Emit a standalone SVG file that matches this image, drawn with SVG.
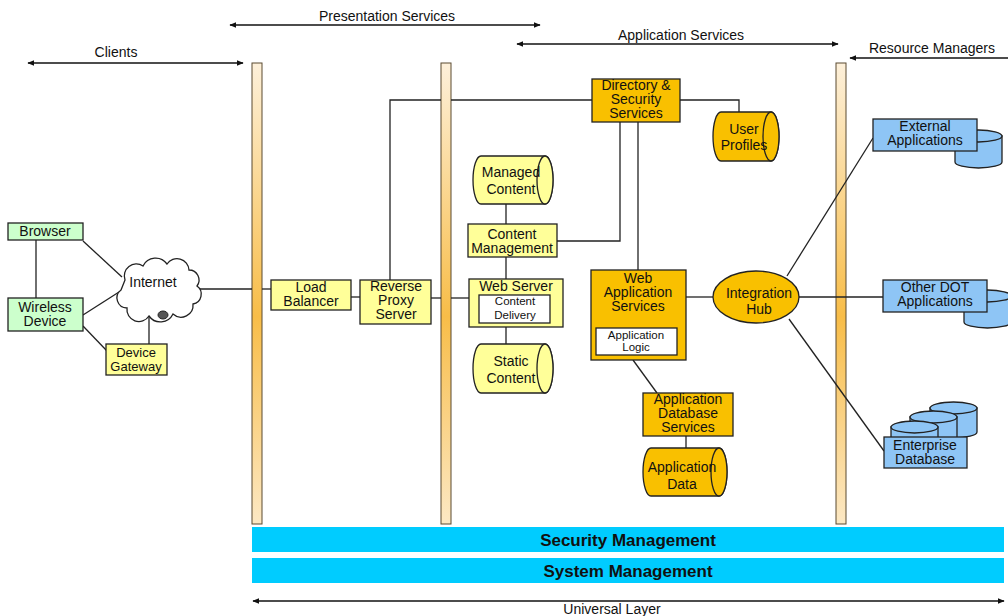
<svg xmlns="http://www.w3.org/2000/svg" width="1008" height="616" viewBox="0 0 1008 616">
<style>
text{font-family:"Liberation Sans",Arial,sans-serif;font-size:14px;fill:#111;text-anchor:middle}
.big{font-size:17px;font-weight:bold}
.sm{font-size:11.5px}
.t13{font-size:13px}
.box{stroke:#222;stroke-width:1.3}
.g{fill:#CCFFCC}.y{fill:#FFFF99}.o{fill:#F9C000}.b{fill:#8EC5F5}.w{fill:#fff}
.ln{stroke:#222;stroke-width:1.3;fill:none}
.arr{stroke:#111;stroke-width:1.5;fill:none;marker-start:url(#ah);marker-end:url(#ah)}
.bar{fill:url(#bg);stroke:#5a4a30;stroke-width:1}
</style>
<defs>
<marker id="ah" viewBox="0 0 10 10" refX="9" refY="5" markerWidth="7" markerHeight="7" orient="auto-start-reverse" markerUnits="userSpaceOnUse"><path d="M0,1 L10,5 L0,9 Z" fill="#111"/></marker>
<linearGradient id="bg" x1="0" y1="0" x2="0" y2="1"><stop offset="0" stop-color="#FDF0DA"/><stop offset="0.55" stop-color="#F8BD48"/><stop offset="1" stop-color="#FCE8C4"/></linearGradient>
</defs>
<rect width="1008" height="616" fill="#fff"/>

<g id="layers">
<line class="arr" x1="28" y1="63" x2="243" y2="63"/><text x="116" y="57">Clients</text>
<line class="arr" x1="230" y1="25" x2="540" y2="25"/><text x="387" y="21">Presentation Services</text>
<line class="arr" x1="517" y1="44" x2="838" y2="44"/><text x="681" y="40">Application Services</text>
<line class="arr" x1="850" y1="58" x2="1020" y2="58"/><text x="932" y="53">Resource Managers</text>
<line class="arr" x1="253" y1="601" x2="1004" y2="601"/><text x="612" y="614">Universal Layer</text>
</g>

<g id="bars">
<rect class="bar" x="252" y="63" width="10" height="461"/>
<rect class="bar" x="441" y="63" width="10" height="461"/>
<rect class="bar" x="836" y="63" width="10" height="461"/>
</g>

<g id="connectors">
<line class="ln" x1="36" y1="240" x2="36" y2="298"/>
<line class="ln" x1="83" y1="241" x2="122" y2="277"/>
<line class="ln" x1="83" y1="315" x2="119" y2="292"/>
<line class="ln" x1="83" y1="326" x2="107" y2="351"/>
<line class="ln" x1="149" y1="316" x2="149" y2="344"/>
<line class="ln" x1="198" y1="289" x2="252" y2="289"/>
<line class="ln" x1="262" y1="289" x2="271" y2="289"/>
<line class="ln" x1="351" y1="297" x2="360" y2="297"/>
<line class="ln" x1="431" y1="298" x2="441" y2="298"/>
<polyline class="ln" points="390,280 390,100 441,100"/>
<line class="ln" x1="451" y1="100" x2="592" y2="100"/>
<polyline class="ln" points="680,100 739,100 739,112"/>
<polyline class="ln" points="620,122 620,241 557,241"/>
<line class="ln" x1="638" y1="122" x2="638" y2="270"/>
<line class="ln" x1="506" y1="204" x2="506" y2="224"/>
<line class="ln" x1="506" y1="257" x2="506" y2="279"/>
<line class="ln" x1="506" y1="327" x2="506" y2="344"/>
<line class="ln" x1="451" y1="298" x2="469" y2="298"/>
<line class="ln" x1="686" y1="297" x2="713" y2="297"/>
<line class="ln" x1="799" y1="297" x2="884" y2="297"/>
<line class="ln" x1="787" y1="276" x2="873" y2="138"/>
<line class="ln" x1="789" y1="319" x2="884" y2="451"/>
<line class="ln" x1="633" y1="360" x2="657" y2="393"/>
<line class="ln" x1="686" y1="436" x2="686" y2="448"/>
</g>

<g id="browser"><rect class="box g" x="8" y="223" width="75" height="17"/><text x="45" y="236">Browser</text></g>
<g id="wireless"><rect class="box g" x="8" y="298" width="75" height="33"/><text x="45" y="312">Wireless</text><text x="45" y="326">Device</text></g>
<g id="internet">
<path class="box" fill="#fff" d="M125 280 a12 12 0 0 1 18 -14 a14 14 0 0 1 24 -2 a12 12 0 0 1 22 6 a10 10 0 0 1 8 16 a10 10 0 0 1 -4 18 a12 12 0 0 1 -20 10 a14 14 0 0 1 -24 2 a12 12 0 0 1 -22 -8 a10 10 0 0 1 -6 -18 z"/>
<ellipse cx="163" cy="315" rx="5" ry="4" fill="#555" stroke="#222"/>
<text x="153" y="287">Internet</text>
</g>
<g id="gateway"><rect class="box y" x="106" y="344" width="61" height="31"/><text class="t13" x="136" y="357">Device</text><text class="t13" x="136" y="371">Gateway</text></g>
<g id="loadbalancer"><rect class="box y" x="271" y="280" width="80" height="30"/><text x="311" y="292">Load</text><text x="311" y="306">Balancer</text></g>
<g id="proxy"><rect class="box y" x="360" y="280" width="71" height="44"/><text x="396" y="291">Reverse</text><text x="396" y="305">Proxy</text><text x="396" y="319">Server</text></g>

<g id="directory"><rect class="box o" x="592" y="79" width="88" height="43"/><text x="636" y="90">Directory &amp;</text><text x="636" y="104">Security</text><text x="636" y="118">Services</text></g>
<g id="userprofiles">
<path class="box o" d="M721 112 H771 A8 24.5 0 0 1 771 161 H721 A8 24.5 0 0 1 721 112 Z"/><ellipse class="box o" cx="771" cy="136.5" rx="8" ry="24.5"/>
<text x="744" y="134">User</text><text x="744" y="150">Profiles</text>
</g>
<g id="managed">
<path class="box y" d="M481 156 H545 A8 24 0 0 1 545 204 H481 A8 24 0 0 1 481 156 Z"/><ellipse class="box y" cx="545" cy="180" rx="8" ry="24"/>
<text x="511" y="177">Managed</text><text x="511" y="194">Content</text>
</g>
<g id="contentmgmt"><rect class="box y" x="468" y="224" width="89" height="33"/><text x="512" y="239">Content</text><text x="512" y="253">Management</text></g>
<g id="webserver"><rect class="box y" x="469" y="279" width="94" height="48"/><text x="516" y="291">Web Server</text>
<rect class="box w" x="479" y="295" width="71" height="28"/><text class="sm" x="515" y="305">Content</text><text class="sm" x="515" y="319">Delivery</text></g>
<g id="static">
<path class="box y" d="M481 344 H545 A8 24.5 0 0 1 545 393 H481 A8 24.5 0 0 1 481 344 Z"/><ellipse class="box y" cx="545" cy="368.5" rx="8" ry="24.5"/>
<text x="511" y="366">Static</text><text x="511" y="383">Content</text>
</g>
<g id="webapp"><rect class="box o" x="591" y="270" width="95" height="90"/><text x="638" y="283">Web</text><text x="638" y="297">Application</text><text x="638" y="311">Services</text>
<rect class="box w" x="596" y="328" width="81" height="27"/><text class="sm" x="636" y="339">Application</text><text class="sm" x="636" y="351">Logic</text></g>
<g id="hub"><ellipse class="box o" cx="756" cy="297" rx="43" ry="26"/><text x="759" y="298">Integration</text><text x="759" y="314">Hub</text></g>
<g id="appdbsvc"><rect class="box o" x="643" y="393" width="90" height="43"/><text x="688" y="404">Application</text><text x="688" y="418">Database</text><text x="688" y="432">Services</text></g>
<g id="appdata">
<path class="box o" d="M651 448 H719 A8 24 0 0 1 719 496 H651 A8 24 0 0 1 651 448 Z"/><ellipse class="box o" cx="719" cy="472" rx="8" ry="24"/>
<text x="682" y="472">Application</text><text x="682" y="489">Data</text>
</g>

<g id="external">
<path class="box b" d="M955 136 V162 A23.5 6 0 0 0 1002 162 V136 Z"/><ellipse class="box b" cx="978.5" cy="136" rx="23.5" ry="6"/>
<rect class="box b" x="873" y="119" width="104" height="32"/><text x="925" y="131">External</text><text x="925" y="145">Applications</text>
</g>
<g id="otherdot">
<path class="box b" d="M964 296 V322 A23.5 6 0 0 0 1011 322 V296 Z"/><ellipse class="box b" cx="987.5" cy="296" rx="23.5" ry="6"/>
<rect class="box b" x="883" y="280" width="104" height="32"/><text x="935" y="292">Other DOT</text><text x="935" y="306">Applications</text>
</g>
<g id="enterprise">
<path class="box b" d="M930 408 V432 A23.5 6 0 0 0 977 432 V408 Z"/><ellipse class="box b" cx="953.5" cy="408" rx="23.5" ry="6"/>
<path class="box b" d="M910 417 V440 A23.5 6 0 0 0 957 440 V417 Z"/><ellipse class="box b" cx="933.5" cy="417" rx="23.5" ry="6"/>
<path class="box b" d="M891 427 V445 A23.5 6 0 0 0 938 445 V427 Z"/><ellipse class="box b" cx="914.5" cy="427" rx="23.5" ry="6"/>
<rect class="box b" x="884" y="437" width="83" height="31"/><text x="925" y="450">Enterprise</text><text x="925" y="464">Database</text>
</g>

<g id="security"><rect x="252" y="527" width="752" height="25" fill="#00CCFF"/><text class="big" x="628" y="546">Security Management</text></g>
<g id="system"><rect x="252" y="558" width="752" height="25" fill="#00CCFF"/><text class="big" x="628" y="577">System Management</text></g>
</svg>
